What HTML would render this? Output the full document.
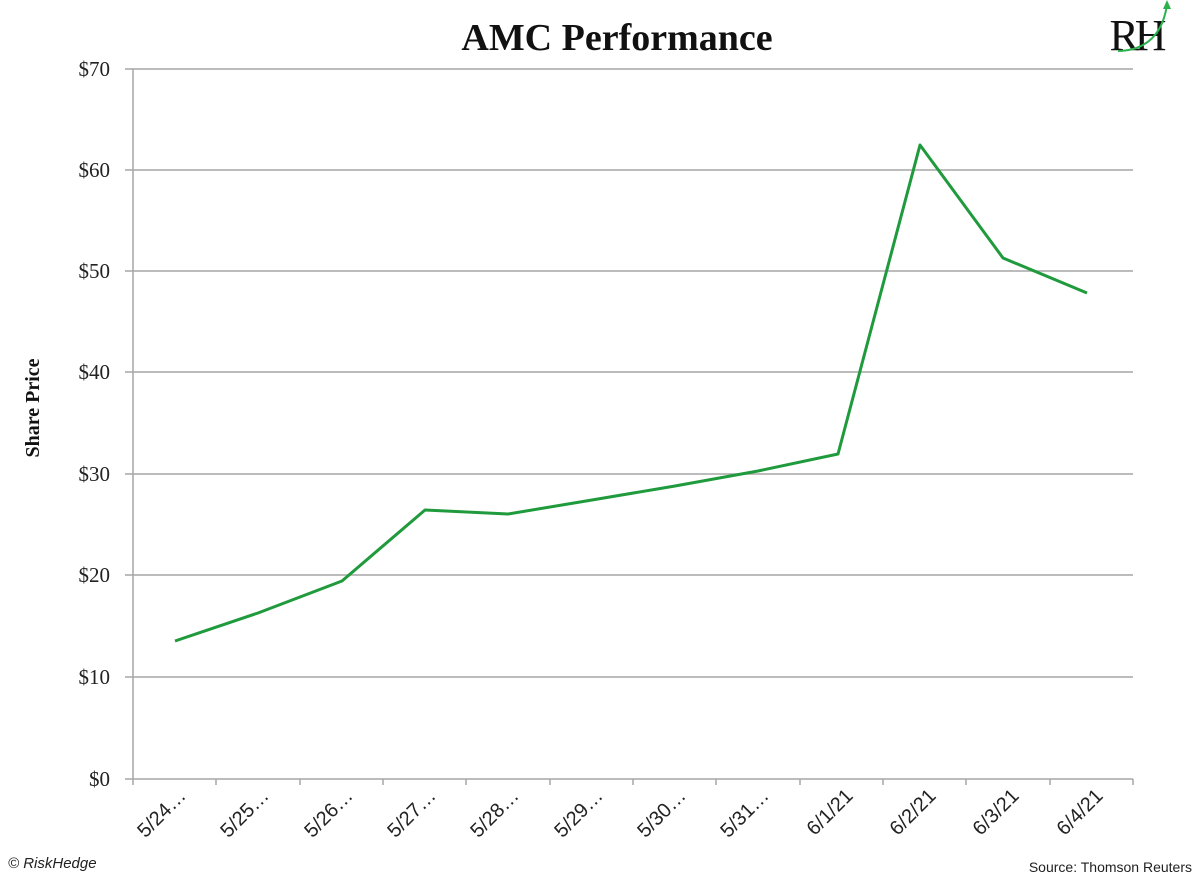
<!DOCTYPE html>
<html><head><style>
html,body{margin:0;padding:0;background:#fff;}
svg{display:block;}
</style></head><body>
<svg width="1200" height="876" viewBox="0 0 1200 876" xmlns="http://www.w3.org/2000/svg">
<rect width="1200" height="876" fill="#fff"/>
<text x="617" y="50" font-family="Liberation Serif, serif" font-weight="bold" font-size="38" text-anchor="middle" fill="#111">AMC Performance</text>
<text x="1136" y="50" font-family="Liberation Serif, serif" font-size="44" text-anchor="middle" fill="#111" letter-spacing="-4">RH</text>
<path d="M1118 51 Q1160 50 1167 5" stroke="#2bb24c" stroke-width="2" fill="none"/>
<polygon points="1167,0 1163,9 1171,9" fill="#2bb24c"/>
<g stroke="#a6a6a6" stroke-width="1.5">
<line x1="125" y1="69" x2="1133" y2="69"/>
<line x1="125" y1="170" x2="1133" y2="170"/>
<line x1="125" y1="271" x2="1133" y2="271"/>
<line x1="125" y1="372" x2="1133" y2="372"/>
<line x1="125" y1="474" x2="1133" y2="474"/>
<line x1="125" y1="575" x2="1133" y2="575"/>
<line x1="125" y1="677" x2="1133" y2="677"/>
<line x1="125" y1="779" x2="1133" y2="779"/>
<line x1="133" y1="69" x2="133" y2="785"/>
<line x1="216" y1="779" x2="216" y2="785"/><line x1="300" y1="779" x2="300" y2="785"/>
<line x1="383" y1="779" x2="383" y2="785"/><line x1="466" y1="779" x2="466" y2="785"/>
<line x1="550" y1="779" x2="550" y2="785"/><line x1="633" y1="779" x2="633" y2="785"/>
<line x1="716" y1="779" x2="716" y2="785"/><line x1="800" y1="779" x2="800" y2="785"/>
<line x1="883" y1="779" x2="883" y2="785"/><line x1="966" y1="779" x2="966" y2="785"/>
<line x1="1050" y1="779" x2="1050" y2="785"/><line x1="1133" y1="779" x2="1133" y2="785"/>
</g>
<g font-family="Liberation Serif, serif" font-size="21" fill="#222" text-anchor="end">
<text x="110" y="76">$70</text><text x="110" y="177">$60</text><text x="110" y="278">$50</text>
<text x="110" y="379">$40</text><text x="110" y="481">$30</text><text x="110" y="582">$20</text>
<text x="110" y="684">$10</text><text x="110" y="786">$0</text>
</g>
<text transform="translate(39,408) rotate(-90)" font-family="Liberation Serif, serif" font-weight="bold" font-size="20" text-anchor="middle" fill="#111">Share Price</text>
<g font-family="Liberation Sans, sans-serif" font-size="20" fill="#222" text-anchor="end">
<text transform="translate(187,797) rotate(-45)">5/24…</text>
<text transform="translate(270,797) rotate(-45)">5/25…</text>
<text transform="translate(354,797) rotate(-45)">5/26…</text>
<text transform="translate(437,797) rotate(-45)">5/27…</text>
<text transform="translate(520,797) rotate(-45)">5/28…</text>
<text transform="translate(604,797) rotate(-45)">5/29…</text>
<text transform="translate(687,797) rotate(-45)">5/30…</text>
<text transform="translate(770,797) rotate(-45)">5/31…</text>
<text transform="translate(854,797) rotate(-45)">6/1/21</text>
<text transform="translate(937,797) rotate(-45)">6/2/21</text>
<text transform="translate(1020,797) rotate(-45)">6/3/21</text>
<text transform="translate(1104,797) rotate(-45)">6/4/21</text>
</g>
<polyline fill="none" stroke="#1f9a3c" stroke-width="3" stroke-linejoin="round" points="175,641 258,613 342,581 425,510 508,514 592,500 675,486 758,471 838,454 920,145 1003,258 1087,293"/>
<text x="8" y="868" font-family="Liberation Sans, sans-serif" font-style="italic" font-size="15" fill="#222">© RiskHedge</text>
<text x="1192" y="872" font-family="Liberation Sans, sans-serif" font-size="14" text-anchor="end" fill="#222">Source: Thomson Reuters</text>
</svg>
</body></html>
